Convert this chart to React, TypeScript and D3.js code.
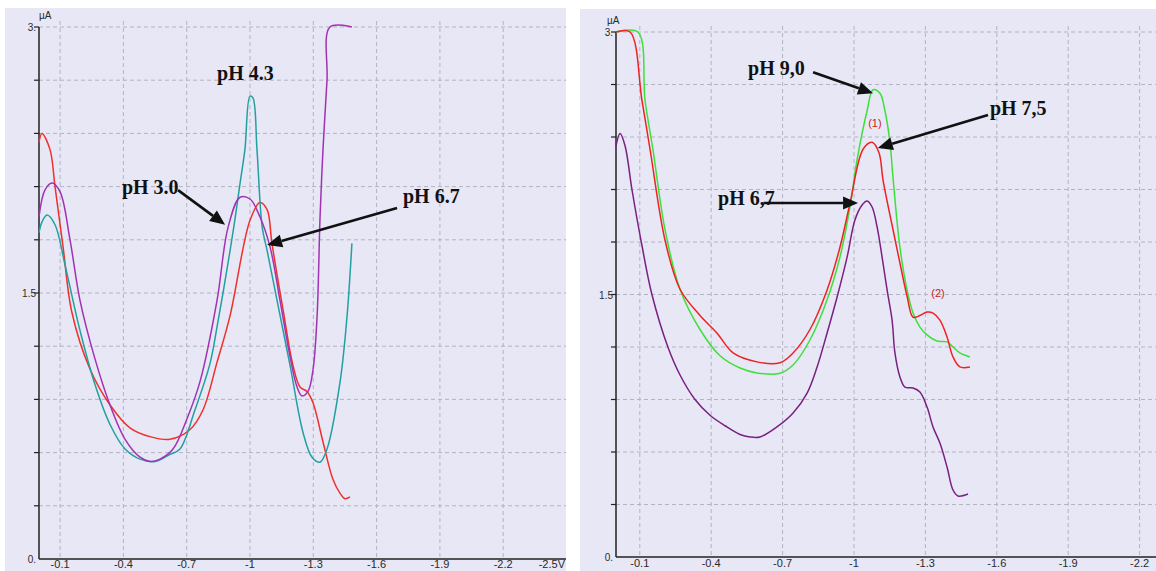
import React, { useEffect, useRef } from 'react';
import * as d3 from 'd3';

type Pt = [number, number]; // [potential V, current µA]

// ---- left panel: pH 3.0 / 4.3 / 6.7 ----
const LEFT_RED: Pt[] = [
  [0, 2.35], [-0.014, 2.4], [-0.052, 2.31], [-0.076, 2.1], [-0.114, 1.76], [-0.156, 1.39],
  [-0.242, 1.07], [-0.336, 0.87], [-0.431, 0.74], [-0.526, 0.69], [-0.621, 0.675], [-0.716, 0.73],
  [-0.777, 0.84], [-0.844, 1.11], [-0.905, 1.37], [-1.0, 1.91], [-1.047, 2.01], [-1.081, 1.97],
  [-1.104, 1.78], [-1.156, 1.41], [-1.204, 1.09], [-1.237, 0.97], [-1.27, 0.945], [-1.299, 0.88],
  [-1.346, 0.66], [-1.393, 0.45], [-1.427, 0.37], [-1.45, 0.34], [-1.474, 0.35],
];
const LEFT_PURPLE: Pt[] = [
  [0, 1.93], [-0.028, 2.08], [-0.062, 2.12], [-0.1, 2.07], [-0.147, 1.8], [-0.194, 1.46],
  [-0.265, 1.13], [-0.336, 0.87], [-0.408, 0.675], [-0.479, 0.574], [-0.526, 0.55], [-0.573, 0.563],
  [-0.635, 0.62], [-0.701, 0.79], [-0.763, 1.0], [-0.844, 1.46], [-0.896, 1.87], [-0.953, 2.04],
  [-1.0, 2.03], [-1.047, 1.93], [-1.095, 1.76], [-1.142, 1.46], [-1.19, 1.14], [-1.223, 0.97],
  [-1.246, 0.92], [-1.275, 0.945], [-1.299, 1.07], [-1.318, 1.37], [-1.332, 1.93], [-1.346, 2.31],
  [-1.365, 2.7], [-1.379, 3.0], [-1.483, 3.0],
];
const LEFT_TEAL: Pt[] = [
  [0, 1.84], [-0.014, 1.9], [-0.038, 1.94], [-0.076, 1.885], [-0.123, 1.66], [-0.194, 1.29],
  [-0.265, 0.985], [-0.336, 0.76], [-0.408, 0.62], [-0.479, 0.563], [-0.55, 0.55], [-0.621, 0.59],
  [-0.668, 0.62], [-0.739, 0.84], [-0.81, 1.1], [-0.844, 1.31], [-0.919, 1.84], [-0.953, 2.12],
  [-0.976, 2.31], [-1.0, 2.61], [-1.014, 2.6], [-1.033, 2.31], [-1.058, 1.87], [-1.081, 1.74],
  [-1.128, 1.46], [-1.19, 1.09], [-1.251, 0.715], [-1.294, 0.574], [-1.332, 0.546], [-1.365, 0.62],
  [-1.427, 1.0], [-1.46, 1.37], [-1.483, 1.78],
];

// ---- right panel: pH 6,7 / 7,5 / 9,0 ----
const RIGHT_GREEN: Pt[] = [
  [0, 3.0], [-0.092, 3.0], [-0.122, 2.61], [-0.155, 2.33], [-0.206, 1.87], [-0.269, 1.53],
  [-0.353, 1.3], [-0.437, 1.15], [-0.521, 1.08], [-0.592, 1.052], [-0.689, 1.05], [-0.744, 1.097],
  [-0.815, 1.24], [-0.887, 1.47], [-0.941, 1.714], [-0.983, 2.0], [-1.013, 2.27], [-1.055, 2.55],
  [-1.08, 2.67], [-1.109, 2.65], [-1.13, 2.55], [-1.151, 2.37], [-1.165, 2.15], [-1.193, 1.77],
  [-1.223, 1.526], [-1.248, 1.394], [-1.277, 1.314], [-1.307, 1.269], [-1.349, 1.234],
  [-1.391, 1.229], [-1.416, 1.2], [-1.445, 1.166], [-1.487, 1.143],
];
const RIGHT_RED: Pt[] = [
  [0, 3.0], [-0.059, 3.0], [-0.109, 2.61], [-0.143, 2.33], [-0.206, 1.81], [-0.269, 1.53],
  [-0.353, 1.38], [-0.424, 1.28], [-0.492, 1.166], [-0.592, 1.115], [-0.689, 1.11], [-0.744, 1.166],
  [-0.815, 1.3], [-0.887, 1.526], [-0.941, 1.77], [-0.983, 2.02], [-1.038, 2.33], [-1.076, 2.37],
  [-1.105, 2.31], [-1.122, 2.154], [-1.164, 1.87], [-1.193, 1.68], [-1.223, 1.49], [-1.248, 1.37],
  [-1.277, 1.38], [-1.307, 1.4], [-1.332, 1.394], [-1.361, 1.354], [-1.391, 1.257],
  [-1.416, 1.143], [-1.445, 1.086], [-1.487, 1.086],
];
const RIGHT_PURPLE: Pt[] = [
  [0, 2.35], [-0.017, 2.42], [-0.038, 2.35], [-0.067, 2.1], [-0.109, 1.78], [-0.151, 1.5],
  [-0.218, 1.2], [-0.269, 1.04], [-0.332, 0.9], [-0.395, 0.81], [-0.458, 0.75], [-0.521, 0.7],
  [-0.563, 0.686], [-0.605, 0.686], [-0.676, 0.743], [-0.744, 0.823], [-0.803, 0.937],
  [-0.845, 1.086], [-0.887, 1.28], [-0.929, 1.486], [-0.971, 1.714], [-1.004, 1.926],
  [-1.034, 2.011], [-1.055, 2.034], [-1.076, 2.0], [-1.097, 1.886], [-1.118, 1.714],
  [-1.139, 1.526], [-1.16, 1.354], [-1.172, 1.166], [-1.193, 1.029], [-1.214, 0.971],
  [-1.248, 0.966], [-1.277, 0.943], [-1.307, 0.857], [-1.332, 0.743], [-1.361, 0.651],
  [-1.391, 0.514], [-1.416, 0.383], [-1.437, 0.349], [-1.479, 0.36],
];

// axis ticks
const X_TICKS = [-0.1, -0.4, -0.7, -1, -1.3, -1.6, -1.9, -2.2];
const X_TICK_LABELS = ['-0.1', '-0.4', '-0.7', '-1', '-1.3', '-1.6', '-1.9', '-2.2'];
const Y_GRID = [0.3, 0.6, 0.9, 1.2, 1.5, 1.8, 2.1, 2.4, 2.7, 3.0];
const Y_LABELS: [number, string][] = [[3, '3.'], [1.5, '1.5'], [0, '0.']];

interface Note { text: string; at: Pt; from?: Pt; to?: Pt }

const LEFT_NOTES: Note[] = [
  { text: 'pH 4.3', at: [-0.844, 2.7] },
  { text: 'pH 3.0', at: [-0.393, 2.06], from: [-0.659, 2.08], to: [-0.882, 1.885] },
  { text: 'pH 6.7', at: [-1.725, 2.01], from: [-1.697, 1.98], to: [-1.081, 1.77] },
];
const RIGHT_NOTES: Note[] = [
  { text: 'pH 9,0', at: [-0.555, 2.754], from: [-0.828, 2.77], to: [-1.08, 2.65] },
  { text: 'pH 7,5', at: [-1.571, 2.526], from: [-1.563, 2.526], to: [-1.1, 2.337] },
  { text: 'pH 6,7', at: [-0.429, 2.01], from: [-0.62, 2.023], to: [-1.017, 2.023] },
];
const RIGHT_MARKS: { text: string; at: Pt }[] = [
  { text: '(1)', at: [-1.088, 2.46] },
  { text: '(2)', at: [-1.353, 1.486] },
];

interface PanelCfg {
  bg: [number, number, number, number]; // x0, y0, x1, y1
  x0: number; xPerVolt: number; yTop: number; yBottom: number;
  series: { pts: Pt[]; color: string }[];
  notes: Note[];
  marks: { text: string; at: Pt }[];
  lastLabel: boolean;
  uaDx: number;
}

const BG = '#e7e7f6';
const GRID = '#b3b3c2';

function drawPanel(svg: d3.Selection<SVGSVGElement, unknown, null, undefined>, cfg: PanelCfg) {
  const [bx0, by0, bx1, by1] = cfg.bg;
  const x = d3.scaleLinear().domain([0, -1]).range([cfg.x0, cfg.x0 + cfg.xPerVolt]);
  const y = d3.scaleLinear().domain([0, 3]).range([cfg.yBottom, cfg.yTop]);
  const g = svg.append('g');

  g.append('rect').attr('x', bx0).attr('y', by0).attr('width', bx1 - bx0).attr('height', by1 - by0).attr('fill', BG);

  // grid
  Y_GRID.forEach(v => {
    g.append('line').attr('x1', cfg.x0).attr('x2', bx1).attr('y1', y(v)).attr('y2', y(v))
      .attr('stroke', GRID).attr('stroke-width', 1).attr('stroke-dasharray', '4,3');
    g.append('line').attr('x1', cfg.x0 - 5).attr('x2', cfg.x0).attr('y1', y(v)).attr('y2', y(v))
      .attr('stroke', '#222').attr('stroke-width', 1.2);
  });
  X_TICKS.forEach(v => {
    g.append('line').attr('x1', x(v)).attr('x2', x(v)).attr('y1', y(3) - 6).attr('y2', y(0))
      .attr('stroke', GRID).attr('stroke-width', 1).attr('stroke-dasharray', '4,3');
  });

  // axes
  g.append('line').attr('x1', cfg.x0).attr('x2', cfg.x0).attr('y1', y(3)).attr('y2', y(0))
    .attr('stroke', '#222').attr('stroke-width', 1.5);
  g.append('line').attr('x1', cfg.x0).attr('x2', bx1).attr('y1', y(0)).attr('y2', y(0))
    .attr('stroke', '#222').attr('stroke-width', 1.5);

  const lab = (sel: d3.Selection<SVGTextElement, unknown, null, undefined>) =>
    sel.style('font-family', '"Liberation Sans", Arial, sans-serif').style('font-size', '11px').attr('fill', '#2a2a2a');

  const labelY = Math.min(y(0) + 10, 568);
  X_TICKS.forEach((v, i) => {
    g.append('text').attr('x', x(v)).attr('y', labelY).attr('text-anchor', 'middle')
      .call(lab).text(X_TICK_LABELS[i]);
  });
  if (cfg.lastLabel) {
    g.append('text').attr('x', bx1 - 1).attr('y', labelY).attr('text-anchor', 'end')
      .call(lab).text('-2.5V');
  }
  Y_LABELS.forEach(([v, t]) => {
    g.append('text').attr('x', cfg.x0 - 3).attr('y', y(v) + 4).attr('text-anchor', 'end')
      .call(lab).style('font-size', '10px').text(t);
  });
  g.append('text').attr('x', cfg.x0 + cfg.uaDx).attr('y', y(3) - 8)
    .call(lab).style('font-size', '10px').text('µA');

  // curves
  const line = d3.line<Pt>().x(d => x(d[0])).y(d => y(d[1])).curve(d3.curveCatmullRom.alpha(0.5));
  cfg.series.forEach(s => {
    g.append('path').attr('d', line(s.pts) || '').attr('fill', 'none')
      .attr('stroke', s.color).attr('stroke-width', 1.5).attr('stroke-linejoin', 'round');
  });

  // annotations
  cfg.notes.forEach(n => {
    g.append('text').attr('x', x(n.at[0])).attr('y', y(n.at[1]))
      .style('font-family', '"Liberation Serif", "Times New Roman", serif')
      .style('font-size', '20px').style('font-weight', 'bold').attr('fill', '#111').text(n.text);
    if (n.from && n.to) {
      const fx = x(n.from[0]), fy = y(n.from[1]), tx = x(n.to[0]), ty = y(n.to[1]);
      const ang = Math.atan2(ty - fy, tx - fx);
      const hl = 15, hw = 6.5;
      const bx = tx - hl * Math.cos(ang), by = ty - hl * Math.sin(ang);
      g.append('line').attr('x1', fx).attr('y1', fy).attr('x2', bx).attr('y2', by)
        .attr('stroke', '#111').attr('stroke-width', 2.6);
      const px = -Math.sin(ang) * hw, py = Math.cos(ang) * hw;
      g.append('polygon')
        .attr('points', `${tx},${ty} ${bx + px},${by + py} ${bx - px},${by - py}`)
        .attr('fill', '#111');
    }
  });
  cfg.marks.forEach(m => {
    g.append('text').attr('x', x(m.at[0])).attr('y', y(m.at[1])).attr('text-anchor', 'middle')
      .style('font-family', '"Liberation Sans", Arial, sans-serif').style('font-size', '11px')
      .attr('fill', '#d02020').text(m.text);
  });
}

const App: React.FC = () => {
  const svgRef = useRef<SVGSVGElement>(null);

  useEffect(() => {
    if (!svgRef.current) return;
    const svg = d3.select(svgRef.current);
    svg.selectAll('*').remove();

    drawPanel(svg, {
      bg: [5, 8, 566, 571], x0: 39, xPerVolt: 211, yTop: 27, yBottom: 559,
      series: [
        { pts: LEFT_RED, color: '#f0302c' },
        { pts: LEFT_TEAL, color: '#22a0a0' },
        { pts: LEFT_PURPLE, color: '#a232b4' },
      ],
      notes: LEFT_NOTES, marks: [], lastLabel: true, uaDx: 0,
    });
    drawPanel(svg, {
      bg: [580, 9, 1156, 571], x0: 616, xPerVolt: 238, yTop: 32, yBottom: 557,
      series: [
        { pts: RIGHT_PURPLE, color: '#7a2082' },
        { pts: RIGHT_GREEN, color: '#3ee03a' },
        { pts: RIGHT_RED, color: '#ee2222' },
      ],
      notes: RIGHT_NOTES, marks: RIGHT_MARKS, lastLabel: false, uaDx: -9,
    });
  }, []);

  return (
    <svg ref={svgRef} width={1156} height={571}
      style={{ position: 'absolute', left: 0, top: 0, background: '#fff' }} />
  );
};

export default App;
